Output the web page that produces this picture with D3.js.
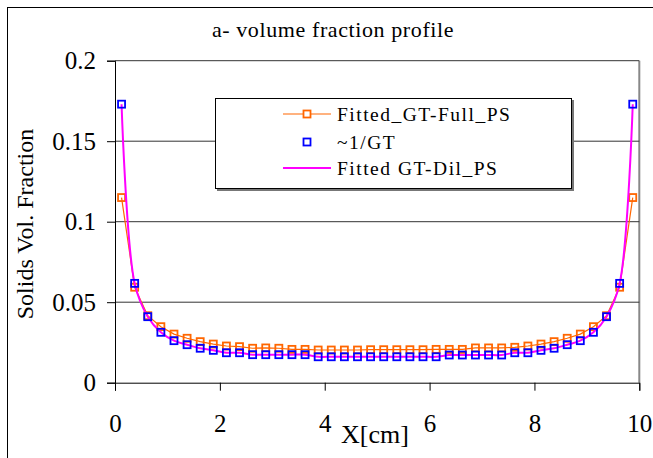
<!DOCTYPE html>
<html><head><meta charset="utf-8">
<script src="https://cdn.jsdelivr.net/npm/d3@7"></script>
<style>
html,body{margin:0;padding:0;background:#fff;}
svg{display:block;}
svg text{font-family:"Liberation Serif","Times New Roman",serif !important;}
</style></head>
<body>
<svg id="chart" width="653" height="458"></svg>
<script>
const xValues = [0.125,0.375,0.625,0.875,1.125,1.375,1.625,1.875,2.125,2.375,
  2.625,2.875,3.125,3.375,3.625,3.875,4.125,4.375,4.625,4.875,
  5.125,5.375,5.625,5.875,6.125,6.375,6.625,6.875,7.125,7.375,
  7.625,7.875,8.125,8.375,8.625,8.875,9.125,9.375,9.625,9.875];
const fullPS = [0.115,0.0593,0.0416,0.0348,0.0302,0.0276,0.0255,0.0240,0.0228,0.0224,
  0.0214,0.0216,0.0214,0.0207,0.0207,0.0203,0.0203,0.0203,0.0203,0.0205,
  0.0205,0.0205,0.0205,0.0205,0.0207,0.0207,0.0207,0.0216,0.0216,0.0216,
  0.0220,0.0228,0.0240,0.0255,0.0276,0.0302,0.0348,0.0416,0.0593,0.115];
const invGT = [0.173,0.0617,0.0410,0.0313,0.0261,0.0236,0.0214,0.0201,0.0186,0.0186,
  0.0174,0.0174,0.0174,0.0174,0.0174,0.0161,0.0161,0.0161,0.0161,0.0161,
  0.0161,0.0161,0.0161,0.0161,0.0161,0.0172,0.0172,0.0172,0.0172,0.0172,
  0.0186,0.0186,0.0201,0.0214,0.0236,0.0261,0.0313,0.0410,0.0617,0.173];
const dilPS = [0.173,0.0617,0.0410,0.0313,0.0261,0.0236,0.0214,0.0201,0.0186,0.0186,
  0.0174,0.0174,0.0174,0.0174,0.0174,0.0161,0.0161,0.0161,0.0161,0.0161,
  0.0161,0.0161,0.0161,0.0161,0.0161,0.0172,0.0172,0.0172,0.0172,0.0172,
  0.0186,0.0186,0.0201,0.0214,0.0236,0.0261,0.0313,0.0410,0.0617,0.173];
const xTicks = [0,2,4,6,8,10];
const yTicks = [0,0.05,0.1,0.15,0.2];
const yTickLabels = ["0","0.05","0.1","0.15","0.2"];
const seriesNames = ["Fitted_GT-Full_PS","~1/GT","Fitted GT-Dil_PS"];
const title = "a- volume fraction profile";
const xTitle = "X[cm]";
const yTitle = "Solids Vol. Fraction";

const C_OR = "#ff6600", C_BL = "#0000ff", C_MG = "#ff00ff";
const FONT = '"Liberation Serif","Times New Roman",serif';
const svg = d3.select("#chart");
const L = 115, R = 639.3, T = 60.7, B = 382.7;
const x = d3.scaleLinear().domain([0,10]).range([L,R]);
const y = d3.scaleLinear().domain([0,0.2]).range([B,T]);

// outer chart border
svg.append("rect").attr("x",7.5).attr("y",7.5).attr("width",700).attr("height",500)
  .attr("fill","#fff").attr("stroke","#000").attr("stroke-width",1);

// title
svg.append("text").attr("x",333).attr("y",36.5).attr("text-anchor","middle")
  .style("font-family",FONT).attr("font-size",22).attr("letter-spacing",0.6).text(title);

// plot area border (right gray)
svg.append("line").attr("x1",R).attr("x2",R).attr("y1",T).attr("y2",B)
  .attr("stroke","#888").attr("stroke-width",2);

// gridlines
svg.append("g").selectAll("line").data(yTicks.filter(d=>d>0)).join("line")
  .attr("x1",L).attr("x2",R).attr("y1",d=>y(d)).attr("y2",d=>y(d))
  .attr("stroke","#333").attr("stroke-width",1);

// axes
const yAxis = d3.axisLeft(y).tickValues(yTicks).tickSize(8).tickPadding(11)
  .tickFormat((d,i)=>yTickLabels[i]);
const gy = svg.append("g").attr("transform",`translate(${L},0)`).call(yAxis)
  .attr("font-family",null).style("font-family",FONT);
gy.select(".domain").attr("stroke","#000");
gy.selectAll(".tick line").attr("stroke","#000");
gy.selectAll("text").style("font-family",FONT).attr("font-size",25).attr("fill","#000").attr("dy","0.33em");

const xAxis = d3.axisBottom(x).tickValues(xTicks).tickSize(8).tickPadding(24)
  .tickFormat(d3.format("d"));
const gx = svg.append("g").attr("transform",`translate(0,${B})`).call(xAxis)
  .attr("font-family",null).style("font-family",FONT);
gx.select(".domain").attr("stroke","#000");
gx.selectAll(".tick line").attr("stroke","#000");
gx.selectAll("text").style("font-family",FONT).attr("font-size",25).attr("fill","#000");

// axis titles
svg.append("text").attr("x",375).attr("y",443).attr("text-anchor","middle")
  .style("font-family",FONT).attr("font-size",26).text(xTitle);
svg.append("text").attr("transform","translate(33,224) rotate(-90)")
  .style("font-family",FONT).attr("text-anchor","middle").attr("font-size",24).text(yTitle);

// series
const pts = (ys)=>xValues.map((v,i)=>[v,ys[i]]);
svg.append("path").datum(pts(fullPS))
  .attr("d",d3.line().x(d=>x(d[0])).y(d=>y(d[1])))
  .attr("fill","none").attr("stroke",C_OR).attr("stroke-width",1.2);
svg.append("g").selectAll("rect").data(pts(fullPS)).join("rect")
  .attr("x",d=>x(d[0])-3.5).attr("y",d=>y(d[1])-3.5).attr("width",7).attr("height",7)
  .attr("fill","none").attr("stroke",C_OR).attr("stroke-width",1.8);
svg.append("path").datum(pts(dilPS))
  .attr("d",d3.line().curve(d3.curveCatmullRom.alpha(0.5)).x(d=>x(d[0])).y(d=>y(d[1])))
  .attr("fill","none").attr("stroke",C_MG).attr("stroke-width",2);
svg.append("g").selectAll("rect").data(pts(invGT)).join("rect")
  .attr("x",d=>x(d[0])-3.5).attr("y",d=>y(d[1])-3.5).attr("width",7).attr("height",7)
  .attr("fill","none").attr("stroke",C_BL).attr("stroke-width",1.8);

// legend
const lg = svg.append("g");
lg.append("rect").attr("x",217).attr("y",100).attr("width",357).attr("height",91).attr("fill","#777");
lg.append("rect").attr("x",215.5).attr("y",98.5).attr("width",356).attr("height",90)
  .attr("fill","#fff").attr("stroke","#000").attr("stroke-width",1);
const rowsY = [114,142,168];
lg.append("line").attr("x1",283).attr("x2",331).attr("y1",rowsY[0]).attr("y2",rowsY[0]).attr("stroke",C_OR).attr("stroke-width",1.2);
lg.append("rect").attr("x",307-3.5).attr("y",rowsY[0]-3.5).attr("width",7).attr("height",7).attr("fill","#fff").attr("stroke",C_OR).attr("stroke-width",1.8);
lg.append("rect").attr("x",307-3.5).attr("y",rowsY[1]-3.5).attr("width",7).attr("height",7).attr("fill","none").attr("stroke",C_BL).attr("stroke-width",1.8);
lg.append("line").attr("x1",283).attr("x2",331).attr("y1",rowsY[2]).attr("y2",rowsY[2]).attr("stroke",C_MG).attr("stroke-width",2);
lg.selectAll("text.lt").data(seriesNames).join("text").attr("class","lt")
  .style("font-family",FONT)
  .attr("x",337).attr("y",(d,i)=>rowsY[i]+6.5).attr("font-size",19.5).attr("letter-spacing",1.5).text(d=>d);
</script>
</body></html>
